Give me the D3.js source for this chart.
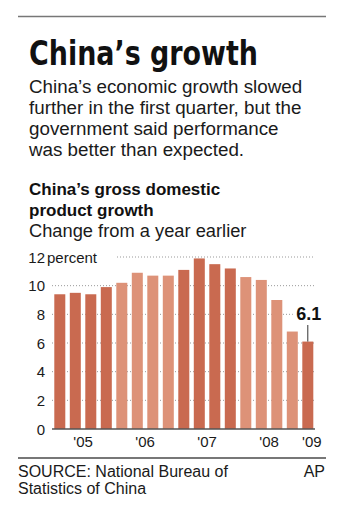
<!DOCTYPE html>
<html>
<head>
    <meta charset="utf-8">
    <style>
        body { margin: 0; background: #fff; }
        svg { display: block; font-family: 'Liberation Sans', Arial, sans-serif; }
        .head { font-family: 'Liberation Sans Narrow', 'DejaVu Sans Condensed', 'Liberation Sans', sans-serif; font-weight: bold; }
    </style>
</head>
<body>
    <svg width="343" height="512"></svg>
<script src="https://d3js.org/d3.v7.min.js"></script>
<script>
    // quarterly GDP growth, percent change from a year earlier
    let quarters = ["2005Q1","2005Q2","2005Q3","2005Q4","2006Q1","2006Q2","2006Q3","2006Q4",
                    "2007Q1","2007Q2","2007Q3","2007Q4","2008Q1","2008Q2","2008Q3","2008Q4","2009Q1"]
    let growth = [9.4, 9.5, 9.4, 9.9, 10.2, 10.9, 10.7, 10.7, 11.1, 11.9, 11.5, 11.2, 10.6, 10.4, 9.0, 6.8, 6.1]
    let years = ["2005", "2006", "2007", "2008", "2009"]
    let yearLabels = ["'05", "'06", "'07", "'08", "'09"]
    let yTicks = [0, 2, 4, 6, 8, 10, 12]

    let data = quarters.map((q, i) => ({ q: q, year: q.slice(0, 4), v: growth[i] }))

    let svg = d3.select("svg")

    // top and bottom rules
    svg.append("line").attr("x1", 18).attr("x2", 326).attr("y1", 16.5).attr("y2", 16.5)
        .attr("stroke", "#777").attr("stroke-width", 1.5)
    svg.append("line").attr("x1", 18).attr("x2", 326).attr("y1", 458).attr("y2", 458)
        .attr("stroke", "#777").attr("stroke-width", 2)

    svg.append("text").attr("class", "head")
        .attr("x", 29).attr("y", 65)
        .attr("font-size", 34)
        .attr("textLength", 229).attr("lengthAdjust", "spacingAndGlyphs")
        .attr("fill", "#111")
        .text("China\u2019s growth")

    let intro = ["China\u2019s economic growth slowed", "further in the first quarter, but the",
                 "government said performance", "was better than expected."]
    svg.append("g").selectAll("text")
        .data(intro)
        .join("text")
        .attr("x", 29)
        .attr("y", (d, i) => 93 + i * 21)
        .attr("font-size", 18.8)
        .attr("fill", "#1a1a1a")
        .text(d => d)

    svg.append("text").attr("x", 29).attr("y", 195)
        .attr("font-size", 17).attr("font-weight", "bold").attr("fill", "#111")
        .text("China\u2019s gross domestic")
    svg.append("text").attr("x", 29).attr("y", 216)
        .attr("font-size", 17).attr("font-weight", "bold").attr("fill", "#111")
        .text("product growth")
    svg.append("text").attr("x", 29).attr("y", 237)
        .attr("font-size", 18.3).attr("fill", "#1a1a1a")
        .text("Change from a year earlier")

    // scales
    let x = d3.scaleBand()
        .domain(quarters)
        .range([49.8, 317.8])
        .padding(0.29)
    let y = d3.scaleLinear()
        .domain([0, 12])
        .range([429, 257])

    // gridlines
    svg.append("g")
        .selectAll("line")
        .data(yTicks.filter(d => d > 0))
        .join("line")
        .attr("x1", d => d == 12 ? 117 : 52)
        .attr("x2", 315)
        .attr("y1", d => y(d))
        .attr("y2", d => y(d))
        .attr("stroke", "#999")
        .attr("stroke-width", 1)
        .attr("stroke-dasharray", "1,2")

    svg.append("g")
        .selectAll("text")
        .data(yTicks)
        .join("text")
        .attr("x", 45)
        .attr("y", d => y(d) + 5.5)
        .attr("text-anchor", "end")
        .attr("font-size", 15)
        .attr("fill", "#1a1a1a")
        .text(d => d)
    svg.append("text").attr("x", 47).attr("y", y(12) + 5.5)
        .attr("font-size", 15).attr("fill", "#1a1a1a")
        .text("percent")

    // bars, colour alternates by year
    let dark = "#c96a50", light = "#dd9278"
    svg.append("g")
        .selectAll("rect")
        .data(data)
        .join("rect")
        .attr("x", d => x(d.q))
        .attr("width", x.bandwidth())
        .attr("y", d => y(d.v))
        .attr("height", d => y(0) - y(d.v))
        .attr("fill", d => years.indexOf(d.year) % 2 == 0 ? dark : light)

    // baseline
    svg.append("line").attr("x1", 52).attr("x2", 315).attr("y1", y(0)).attr("y2", y(0))
        .attr("stroke", "#555").attr("stroke-width", 1.5)

    // year labels centred under each year's bars
    svg.append("g")
        .selectAll("text")
        .data(years)
        .join("text")
        .attr("x", (d, i) => {
            let qs = data.filter(e => e.year == d)
            let cx = d3.mean(qs, e => x(e.q) + x.bandwidth() / 2)
            return cx + (qs.length == 1 ? 4 : 0)
        })
        .attr("y", 447)
        .attr("text-anchor", "middle")
        .attr("font-size", 15)
        .attr("fill", "#1a1a1a")
        .text((d, i) => yearLabels[i])

    // latest value callout
    let last = data[data.length - 1]
    let lx = x(last.q) + x.bandwidth() / 2
    svg.append("rect").attr("x", lx - 15).attr("y", 303).attr("width", 30).attr("height", 19).attr("fill", "#fff")
    svg.append("text").attr("x", lx + 1).attr("y", 320)
        .attr("text-anchor", "middle")
        .attr("font-size", 18).attr("font-weight", "bold").attr("fill", "#111")
        .text(last.v.toFixed(1))
    svg.append("line").attr("x1", lx).attr("x2", lx).attr("y1", 325).attr("y2", y(last.v))
        .attr("stroke", "#333").attr("stroke-width", 1)

    // footer
    svg.append("text").attr("x", 18).attr("y", 477).attr("font-size", 16).attr("fill", "#1a1a1a")
        .text("SOURCE: National Bureau of")
    svg.append("text").attr("x", 18).attr("y", 494).attr("font-size", 16).attr("fill", "#1a1a1a")
        .text("Statistics of China")
    svg.append("text").attr("x", 325).attr("y", 477).attr("text-anchor", "end").attr("font-size", 16).attr("fill", "#1a1a1a")
        .text("AP")
</script>
</body>
</html>
